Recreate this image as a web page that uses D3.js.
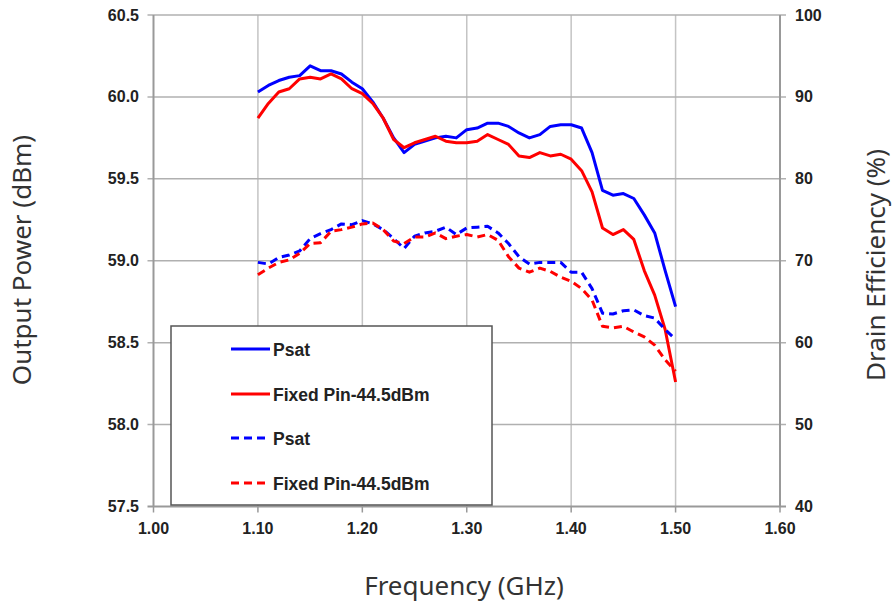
<!DOCTYPE html>
<html><head><meta charset="utf-8">
<script src="https://cdn.jsdelivr.net/npm/d3@7/dist/d3.min.js"></script>
<style>body{margin:0;background:#fff}</style>
</head><body><svg id="c" width="896" height="607"></svg>
<script>
const freq = [1.10,1.11,1.12,1.13,1.14,1.15,1.16,1.17,1.18,1.19,1.20,1.21,1.22,1.23,1.24,1.25,1.26,1.27,1.28,1.29,1.30,1.31,1.32,1.33,1.34,1.35,1.36,1.37,1.38,1.39,1.40,1.41,1.42,1.43,1.44,1.45,1.46,1.47,1.48,1.49,1.50];
const psatPower = [60.03,60.07,60.10,60.12,60.13,60.19,60.16,60.16,60.14,60.09,60.05,59.97,59.87,59.75,59.66,59.71,59.73,59.75,59.76,59.75,59.80,59.81,59.84,59.84,59.82,59.78,59.75,59.77,59.82,59.83,59.83,59.81,59.66,59.43,59.40,59.41,59.38,59.28,59.17,58.94,58.72];
const fixedPower = [59.87,59.96,60.03,60.05,60.11,60.12,60.11,60.14,60.11,60.05,60.02,59.96,59.87,59.74,59.69,59.72,59.74,59.76,59.73,59.72,59.72,59.73,59.77,59.74,59.71,59.64,59.63,59.66,59.64,59.65,59.62,59.55,59.42,59.20,59.16,59.19,59.13,58.94,58.79,58.58,58.26];
const psatEff = [69.8,69.6,70.4,70.7,71.2,72.7,73.3,73.8,74.5,74.4,74.9,74.5,73.8,72.7,71.5,73.0,73.4,73.6,74.1,73.2,74.0,74.1,74.2,73.4,72.1,70.5,69.6,69.8,69.8,69.8,68.6,68.6,66.6,63.6,63.5,63.9,64.0,63.3,63.0,61.6,60.4];
const fixedEff = [68.3,69.1,69.8,70.1,70.9,72.1,72.2,73.6,73.8,74.1,74.5,74.6,73.8,72.4,72.1,72.9,72.9,73.4,72.7,73.0,73.2,72.9,73.2,72.5,70.5,69.1,68.6,69.1,68.7,68.0,67.5,66.6,65.2,62.0,61.8,62.0,61.3,60.7,59.7,57.9,56.5];
const xTicks = [1.00,1.10,1.20,1.30,1.40,1.50,1.60];
const yLeftTicks = [57.5,58.0,58.5,59.0,59.5,60.0,60.5];
const yRightTicks = [40,50,60,70,80,90,100];
const legendLabels = ["Psat","Fixed Pin-44.5dBm","Psat","Fixed Pin-44.5dBm"];

const L=153.5, R=780, T=15, B=506.5;
const svg = d3.select("#c");
const x = d3.scaleLinear().domain([1.0,1.6]).range([L,R]);
const yl = d3.scaleLinear().domain([57.5,60.5]).range([B,T]);
const yr = d3.scaleLinear().domain([40,100]).range([B,T]);

const grid = svg.append("g");
grid.selectAll("line.v").data(xTicks.slice(1,-1)).join("line")
  .attr("x1",d=>x(d)).attr("x2",d=>x(d)).attr("y1",T).attr("y2",B)
  .attr("stroke","#c4c4c4").attr("stroke-width",1.5);
grid.selectAll("line.h").data(yLeftTicks.slice(1)).join("line")
  .attr("x1",L-6).attr("x2",R+6).attr("y1",d=>yl(d)).attr("y2",d=>yl(d))
  .attr("stroke","#b0b0b0").attr("stroke-width",1.5);

// axes
const tickFont = "'Liberation Sans', Arial, sans-serif";
const ax = svg.append("g");
ax.append("line").attr("x1",L).attr("x2",L).attr("y1",T).attr("y2",B).attr("stroke","#999").attr("stroke-width",2);
ax.append("line").attr("x1",R).attr("x2",R).attr("y1",T).attr("y2",B).attr("stroke","#999").attr("stroke-width",2);
ax.append("line").attr("x1",L-6).attr("x2",R+6).attr("y1",B).attr("y2",B).attr("stroke","#999").attr("stroke-width",2);
ax.selectAll("line.xt").data(xTicks).join("line")
  .attr("x1",d=>x(d)).attr("x2",d=>x(d)).attr("y1",B).attr("y2",B+6)
  .attr("stroke","#999").attr("stroke-width",1.5);

ax.selectAll("text.xl").data(xTicks).join("text")
  .attr("x",d=>x(d)).attr("y",534).attr("text-anchor","middle")
  .attr("font-family",tickFont).attr("font-weight","bold").attr("font-size",16).attr("fill","#222")
  .text(d=>d.toFixed(2));
ax.selectAll("text.yl").data(yLeftTicks).join("text")
  .attr("x",139).attr("y",d=>yl(d)+5.5).attr("text-anchor","end")
  .attr("font-family",tickFont).attr("font-weight","bold").attr("font-size",16).attr("fill","#222")
  .text(d=>d.toFixed(1));
ax.selectAll("text.yr").data(yRightTicks).join("text")
  .attr("x",795).attr("y",d=>yr(d)+5.5).attr("text-anchor","start")
  .attr("font-family",tickFont).attr("font-weight","bold").attr("font-size",16).attr("fill","#222")
  .text(d=>d);

const titleFont = "'Noto Sans', sans-serif";
svg.append("text").attr("x",464).attr("y",595).attr("text-anchor","middle")
  .attr("font-family",titleFont).attr("font-size",26).attr("fill","#333").text("Frequency (GHz)");
svg.append("text").attr("transform","translate(31,260) rotate(-90)").attr("text-anchor","middle")
  .attr("font-family",titleFont).attr("font-size",26).attr("fill","#333").text("Output Power (dBm)");
svg.append("text").attr("transform","translate(885,265) rotate(-90)").attr("text-anchor","middle")
  .attr("font-family",titleFont).attr("font-size",26).attr("fill","#333").text("Drain Efficiency (%)");

// lines
const series = [
  {vals:psatPower, y:yl, color:"#0000ff", dash:null},
  {vals:fixedPower, y:yl, color:"#ff0000", dash:null},
  {vals:psatEff, y:yr, color:"#0000ff", dash:"8,5"},
  {vals:fixedEff, y:yr, color:"#ff0000", dash:"8,5"}
];
const lg = svg.append("g");
series.forEach(s=>{
  const line = d3.line().x((d,i)=>x(freq[i])).y(d=>s.y(d));
  lg.append("path").datum(s.vals).attr("d",line).attr("fill","none")
    .attr("stroke",s.color).attr("stroke-width",3).attr("stroke-dasharray",s.dash)
    .attr("stroke-linejoin","round");
});

// legend
const leg = svg.append("g");
leg.append("rect").attr("x",171).attr("y",326).attr("width",321).attr("height",179)
  .attr("fill","#fff").attr("stroke","#555").attr("stroke-width",1.5);
const legY = [349,394,438,483];
series.forEach((s,i)=>{
  leg.append("line").attr("x1",231).attr("x2",s.dash?266:270).attr("y1",legY[i]).attr("y2",legY[i])
    .attr("stroke",s.color).attr("stroke-width",3).attr("stroke-dasharray",s.dash?"8,5":null);
  leg.append("text").attr("x",273).attr("y",legY[i]+6.5).attr("font-family",tickFont)
    .attr("font-weight","bold").attr("font-size",17.5).attr("fill","#222").text(legendLabels[i]);
});
</script></body></html>
